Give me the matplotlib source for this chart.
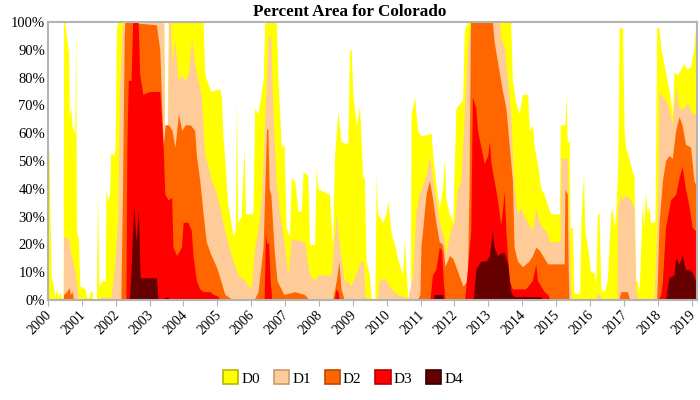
import matplotlib
matplotlib.use("Agg")
import matplotlib.pyplot as plt
from matplotlib.ticker import FuncFormatter
from matplotlib.patches import Patch
from matplotlib.transforms import ScaledTranslation

title = "Percent Area for Colorado"
categories = ["D0", "D1", "D2", "D3", "D4"]
colors = ["#FFFF00", "#FFCC99", "#FF6600", "#FF0000", "#660000"]
edge_colors = ["#B8B800", "#C89A70", "#B84A00", "#B80000", "#330000"]
year_ticks = list(range(2000, 2020))

d0_years = [2000.00, 2000.03, 2000.06, 2000.10, 2000.16, 2000.20, 2000.25, 2000.30, 2000.34, 2000.42,
            2000.45, 2000.46, 2000.50, 2000.54, 2000.58, 2000.61, 2000.63, 2000.67, 2000.72, 2000.79,
            2000.82, 2000.84, 2000.90, 2000.94, 2001.10, 2001.14, 2001.22, 2001.24, 2001.30, 2001.33,
            2001.43, 2001.46, 2001.50, 2001.60, 2001.69, 2001.71, 2001.76, 2001.82, 2001.85, 2001.95,
            2001.98, 2002.02, 2002.07, 2003.42, 2003.44, 2003.53, 2003.55, 2004.58, 2004.63, 2004.72,
            2004.80, 2005.07, 2005.12, 2005.16, 2005.22, 2005.30, 2005.40, 2005.46, 2005.53, 2005.56,
            2005.60, 2005.70, 2005.79, 2005.83, 2006.05, 2006.10, 2006.20, 2006.35, 2006.40, 2006.74,
            2006.79, 2006.89, 2006.97, 2007.03, 2007.13, 2007.18, 2007.28, 2007.38, 2007.48, 2007.53,
            2007.67, 2007.72, 2007.87, 2007.92, 2007.97, 2008.31, 2008.40, 2008.46, 2008.56, 2008.65,
            2008.85, 2008.90, 2008.95, 2009.00, 2009.10, 2009.20, 2009.29, 2009.34, 2009.39, 2009.49,
            2009.54, 2009.65, 2009.69, 2009.73, 2009.88, 2009.98, 2010.03, 2010.13, 2010.23, 2010.32,
            2010.47, 2010.52, 2010.57, 2010.62, 2010.70, 2010.72, 2010.82, 2010.91, 2011.01, 2011.31,
            2011.36, 2011.45, 2011.55, 2011.65, 2011.70, 2011.75, 2011.85, 2011.95, 2012.04, 2012.24,
            2012.29, 2012.39, 2013.66, 2013.71, 2013.81, 2013.91, 2014.01, 2014.16, 2014.21, 2014.30,
            2014.35, 2014.45, 2014.55, 2014.65, 2014.75, 2014.84, 2015.10, 2015.12, 2015.26, 2015.29,
            2015.33, 2015.39, 2015.41, 2015.48, 2015.53, 2015.70, 2015.73, 2015.81, 2015.85, 2015.93,
            2016.02, 2016.12, 2016.17, 2016.22, 2016.27, 2016.32, 2016.42, 2016.51, 2016.56, 2016.61,
            2016.66, 2016.71, 2016.76, 2016.82, 2016.86, 2016.96, 2017.01, 2017.05, 2017.15, 2017.25,
            2017.30, 2017.35, 2017.40, 2017.45, 2017.50, 2017.55, 2017.59, 2017.64, 2017.69, 2017.74,
            2017.79, 2017.92, 2017.97, 2018.04, 2018.09, 2018.18, 2018.28, 2018.38, 2018.43, 2018.48,
            2018.58, 2018.68, 2018.77, 2018.87, 2018.97, 2019.07, 2019.12, 2019.17]
d0_values = [45, 55, 30, 8, 5, 1, 4, 1, 3, 0.5,
             1, 100, 100, 95, 92, 88, 65, 70, 62, 60,
             98, 25, 22, 5, 4, 1, 1, 3, 3, 0,
             0, 40, 5, 7, 7, 40, 36, 38, 53, 52,
             55, 98, 100, 100, 63, 63, 100, 100, 81, 78,
             75, 76, 73, 60, 50, 35, 28, 23, 25, 72,
             28, 30, 55, 31, 31, 69, 67, 79, 100, 100,
             79, 55, 56, 26, 23, 44, 43, 32, 32, 46,
             45, 20, 20, 48, 40, 38, 19, 52, 68, 57,
             56, 90, 90, 74, 63, 70, 44, 44, 14, 9,
             0.6, 0.5, 45, 31, 28, 31, 36, 24, 20, 15,
             9, 22, 11, 0.6, 0.6, 67, 73, 61, 59, 60,
             52, 42, 33, 40, 51, 36, 31, 28, 69, 72,
             97, 100, 100, 79, 71, 67, 74, 74, 61, 63,
             55, 49, 40, 38, 34, 31, 31, 63, 63, 74,
             57, 57, 26, 26, 2.4, 2.4, 28, 45, 25, 19,
             10, 10, 6, 31, 31, 4, 3, 7, 19, 31,
             33, 26, 31, 48, 98, 98, 61, 55, 51, 46,
             45, 7, 7, 3, 19, 36, 26, 39, 31, 34,
             28, 28, 98, 98, 91, 85, 79, 72, 66, 82,
             81, 83, 85, 83, 84, 91, 98, 98]

d1_years = [2000.00, 2000.45, 2000.46, 2000.60, 2000.70, 2000.80, 2000.86, 2000.90, 2001.50, 2001.55,
            2001.85, 2001.90, 2001.98, 2002.06, 2002.11, 2002.20, 2002.25, 2003.42, 2003.44, 2003.53,
            2003.56, 2003.62, 2003.66, 2003.74, 2003.84, 2003.94, 2004.04, 2004.14, 2004.24, 2004.33,
            2004.43, 2004.53, 2004.58, 2004.63, 2004.73, 2004.82, 2004.93, 2005.02, 2005.22, 2005.41,
            2005.61, 2005.81, 2006.00, 2006.10, 2006.20, 2006.30, 2006.40, 2006.45, 2006.50, 2006.58,
            2006.64, 2006.74, 2006.84, 2006.99, 2007.08, 2007.18, 2007.57, 2007.72, 2007.87, 2007.97,
            2008.36, 2008.51, 2008.61, 2008.75, 2008.95, 2009.24, 2009.31, 2009.36, 2009.55, 2009.70,
            2009.78, 2009.93, 2010.13, 2010.32, 2010.62, 2010.77, 2010.86, 2010.96, 2011.16, 2011.26,
            2011.36, 2011.45, 2011.55, 2011.70, 2011.75, 2011.80, 2011.90, 2012.00, 2012.09, 2012.19,
            2012.29, 2012.39, 2012.49, 2013.32, 2013.37, 2013.47, 2013.57, 2013.66, 2013.76, 2013.86,
            2013.96, 2014.06, 2014.30, 2014.40, 2014.50, 2014.60, 2014.70, 2014.80, 2015.12, 2015.14,
            2015.33, 2015.38, 2015.43, 2015.48, 2016.17, 2016.20, 2016.30, 2016.33, 2016.80, 2016.82,
            2016.91, 2016.96, 2017.05, 2017.20, 2017.30, 2017.35, 2017.40, 2017.89, 2017.99, 2018.04,
            2018.14, 2018.24, 2018.33, 2018.43, 2018.53, 2018.63, 2018.77, 2018.87, 2019.02, 2019.17]
d1_values = [0, 0, 23, 22, 15, 10, 5, 0, 0, 1,
             1, 5, 15, 30, 75, 98, 100, 100, 63, 63,
             100, 100, 85, 94, 79, 81, 79, 81, 94, 85,
             79, 73, 61, 52, 48, 43, 40, 36, 25, 16,
             9, 7, 4, 19, 25, 37, 67, 79, 95, 95,
             67, 43, 31, 19, 9, 22, 21, 9, 7, 9,
             9, 31, 19, 7, 5.4, 14, 14, 1, 0.5, 0,
             7, 8, 4, 2, 0.6, 9, 31, 38, 45, 52,
             43, 36, 28, 22, 16, 20, 26, 28, 40, 43,
             67, 91, 100, 100, 94, 91, 79, 67, 40, 31,
             33, 30, 25, 33, 28, 26, 25, 21, 21, 51,
             51, 26, 3, 0, 0, 2, 2, 0, 0, 33,
             38, 36, 38, 36, 33, 4, 0.6, 0.6, 31, 75,
             73, 72, 69, 63, 77, 69, 69, 71, 67, 67]

d2_years = [2000.00, 2000.45, 2000.46, 2000.55, 2000.62, 2000.66, 2000.72, 2000.75, 2002.15, 2002.20,
            2002.25, 2002.27, 2003.20, 2003.30, 2003.40, 2003.46, 2003.56, 2003.66, 2003.75, 2003.85,
            2003.95, 2004.05, 2004.20, 2004.33, 2004.38, 2004.48, 2004.58, 2004.67, 2004.82, 2004.97,
            2005.10, 2005.22, 2005.41, 2006.10, 2006.20, 2006.35, 2006.45, 2006.49, 2006.53, 2006.58,
            2006.67, 2006.76, 2006.96, 2007.28, 2007.57, 2007.72, 2008.41, 2008.51, 2008.59, 2008.65,
            2008.75, 2010.90, 2010.98, 2011.01, 2011.16, 2011.26, 2011.36, 2011.45, 2011.55, 2011.65,
            2011.72, 2011.85, 2011.95, 2012.10, 2012.25, 2012.38, 2012.43, 2012.47, 2013.12, 2013.17,
            2013.32, 2013.42, 2013.52, 2013.62, 2013.71, 2013.76, 2013.86, 2014.01, 2014.20, 2014.30,
            2014.40, 2014.50, 2014.65, 2014.75, 2015.24, 2015.26, 2015.33, 2015.36, 2015.38, 2016.85,
            2016.91, 2017.10, 2017.18, 2017.97, 2018.04, 2018.14, 2018.23, 2018.33, 2018.43, 2018.53,
            2018.63, 2018.72, 2018.82, 2018.97, 2019.07, 2019.17]
d2_values = [0, 0, 2, 3, 4.5, 2, 3, 0, 0, 40,
             95, 100, 99, 90, 55, 63, 63, 61, 55, 67,
             61, 63, 63, 61, 52, 43, 31, 21, 16, 12,
             7, 2, 0.5, 0.5, 3, 19, 61, 62, 40, 38,
             19, 7, 2, 3, 2, 0, 0.6, 7, 14, 4,
             0, 0, 2, 19, 38, 43, 36, 28, 21, 20,
             12, 16, 15, 10, 5, 7, 40, 100, 100, 93,
             82, 75, 69, 55, 43, 19, 14, 12, 14, 16,
             19, 18, 15, 13, 13, 40, 38, 10, 0, 0,
             3, 3, 0, 0, 28, 43, 50, 52, 51, 61,
             66, 63, 56, 55, 43, 40]

d3_years = [2000.00, 2002.30, 2002.33, 2002.37, 2002.45, 2002.50, 2002.66, 2002.71, 2002.80, 2003.00,
            2003.30, 2003.40, 2003.45, 2003.55, 2003.65, 2003.69, 2003.80, 2003.94, 2003.99, 2004.13,
            2004.23, 2004.28, 2004.38, 2004.48, 2004.58, 2004.78, 2004.88, 2005.00, 2005.10, 2006.38,
            2006.42, 2006.46, 2006.51, 2006.56, 2006.61, 2008.45, 2008.50, 2008.56, 2008.60, 2011.27,
            2011.30, 2011.35, 2011.45, 2011.55, 2011.62, 2011.67, 2011.72, 2012.30, 2012.48, 2012.53,
            2012.63, 2012.68, 2012.78, 2012.88, 2012.98, 2013.03, 2013.08, 2013.17, 2013.27, 2013.37,
            2013.47, 2013.52, 2013.62, 2013.71, 2014.10, 2014.30, 2014.40, 2014.45, 2014.65, 2014.75,
            2014.83, 2018.00, 2018.09, 2018.14, 2018.23, 2018.38, 2018.53, 2018.63, 2018.72, 2018.82,
            2018.92, 2019.02, 2019.12, 2019.17]
d3_values = [0, 0, 57, 79, 79, 100, 100, 81, 74, 75,
             75, 55, 38, 36, 37, 19, 16, 19, 28, 28,
             25, 16, 7, 4, 3, 3, 2, 1.5, 0, 0,
             24, 20, 21, 7, 0, 0, 4, 3, 0, 0,
             3, 9, 11, 19, 18, 7, 0, 0, 25, 73,
             69, 61, 55, 49, 52, 57, 49, 43, 36, 27,
             39, 24, 7, 4, 4, 7, 13, 7, 3, 2,
             0, 0, 2, 7, 26, 36, 38, 44, 48, 40,
             34, 26, 25, 21]

d4_years = [2000.00, 2002.40, 2002.45, 2002.53, 2002.60, 2002.67, 2002.72, 2003.20, 2003.25, 2003.40,
            2003.45, 2003.55, 2003.58, 2008.50, 2008.52, 2008.56, 2011.38, 2011.40, 2011.65, 2011.67,
            2012.55, 2012.63, 2012.78, 2012.93, 2013.03, 2013.12, 2013.17, 2013.27, 2013.37, 2013.47,
            2013.57, 2013.66, 2013.75, 2014.55, 2014.60, 2018.23, 2018.33, 2018.48, 2018.53, 2018.63,
            2018.72, 2018.82, 2018.92, 2019.02, 2019.12, 2019.17]
d4_values = [0, 0, 10, 34, 21, 32, 8, 8, 0, 0,
             1, 1, 0, 0, 1, 0, 0, 2, 2, 0,
             0, 11, 14, 14, 16, 25, 19, 16, 17, 17,
             13, 3, 1.2, 1.2, 0, 0, 8, 9, 15, 13,
             16, 11, 11, 10, 7, 3]

series_years = [d0_years, d1_years, d2_years, d3_years, d4_years]
series_values = [d0_values, d1_values, d2_values, d3_values, d4_values]

plt.rcParams['font.family'] = ['Liberation Serif', 'DejaVu Serif']

fig = plt.figure(figsize=(7, 4), dpi=100)
ax = fig.add_axes([48 / 700, 1 - 300 / 400, 649 / 700, 278 / 400])

for yrs, vals, col in zip(series_years, series_values, colors):
    ax.fill_between(yrs, 0, vals, color=col, linewidth=0)

ax.set_xlim(2000, 2019.16)
ax.set_ylim(0, 100)
ax.set_yticks(range(0, 101, 10))
ax.yaxis.set_major_formatter(FuncFormatter(lambda v, p: f"{int(v)}%"))
ax.set_xticks(year_ticks)
ax.set_xticklabels([str(y) for y in year_ticks], rotation=45, ha='right', va='top',
                   rotation_mode='anchor')
ax.tick_params(axis='x', length=4, color='#b3b3b3', labelsize=10, pad=2)
ax.tick_params(axis='y', length=0, labelsize=10.5, pad=2)
shift = ScaledTranslation(-3 / 100, 0, fig.dpi_scale_trans)
for lab in ax.get_xticklabels():
    lab.set_transform(lab.get_transform() + shift)
for s in ax.spines.values():
    s.set_color('#b3b3b3')
    s.set_linewidth(1.5)

fig.text(0.5, 1 - 12 / 400, title, ha='center', va='center', fontsize=12.3, fontweight='bold')

handles = [Patch(facecolor=c, edgecolor=e, label=l, linewidth=1.2)
           for c, e, l in zip(colors, edge_colors, categories)]
fig.legend(handles=handles, loc='center', bbox_to_anchor=(0.49, 1 - 378 / 400), ncol=5,
           frameon=False, fontsize=11, handlelength=1.0, handleheight=1.0,
           handletextpad=0.2, columnspacing=0.9)

fig.savefig("out.png", dpi=100)
